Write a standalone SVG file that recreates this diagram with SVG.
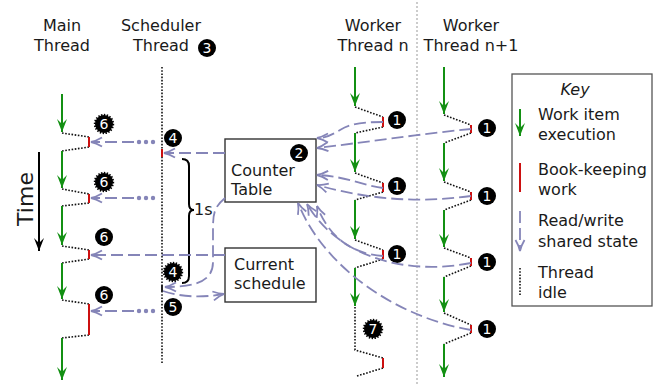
<svg xmlns="http://www.w3.org/2000/svg" width="659" height="388" viewBox="0 0 659 388">
<style>
text{font-family:"DejaVu Sans","Liberation Sans",sans-serif;font-size:16px;fill:#1a1a1a}
.ttl{text-anchor:middle}
.grn{stroke:#139013;stroke-width:2;fill:none}
.red{stroke:#cc1010;stroke-width:2;fill:none}
.idle{stroke:#111;stroke-width:1.6;stroke-dasharray:1.6 1.6;fill:none}
.rw{stroke:#8585b8;stroke-width:1.8;stroke-dasharray:12 5;fill:none}
.box{fill:#fff;stroke:#333;stroke-width:1.4}
.bd circle{fill:#000}
.bd text{fill:#fff;font-size:14px;text-anchor:middle}
.ser{fill:none;stroke:#000;stroke-width:2.4;stroke-dasharray:1.4 1.4}
.dot{fill:#8585b8}
</style>
<defs>
<marker id="ag" viewBox="-14 -7 16 14" markerWidth="16" markerHeight="14" refX="0" refY="0" orient="auto" markerUnits="userSpaceOnUse">
<path d="M0,0 L-13,-5 L-8,0 L-13,5 Z" fill="#139013"/>
</marker>
<marker id="ap" viewBox="-14 -7 16 14" markerWidth="16" markerHeight="14" refX="0" refY="0" orient="auto" markerUnits="userSpaceOnUse">
<path d="M-11,-4.5 Q-5,-1 0,0 Q-5,1 -11,4.5" fill="none" stroke="#8585b8" stroke-width="1.8"/>
</marker>
<marker id="ak" viewBox="-14 -7 16 14" markerWidth="16" markerHeight="14" refX="0" refY="0" orient="auto" markerUnits="userSpaceOnUse">
<path d="M0,0 L-13,-5 L-8,0 L-13,5 Z" fill="#000"/>
</marker>
</defs>

<!-- separator -->
<line x1="417" y1="2" x2="417" y2="384" stroke="#999" stroke-width="1" stroke-dasharray="2 2"/>

<!-- titles -->
<g id="titles">
<text class="ttl" x="62" y="31">Main</text>
<text class="ttl" x="62" y="51">Thread</text>
<text class="ttl" x="161" y="31">Scheduler</text>
<text class="ttl" x="161" y="51">Thread</text>
<text class="ttl" x="373" y="31">Worker</text>
<text class="ttl" x="373" y="51">Thread n</text>
<text class="ttl" x="471" y="31">Worker</text>
<text class="ttl" x="471" y="51">Thread n+1</text>
</g>
<g class="bd"><circle cx="207" cy="48" r="9"/><text x="207" y="53">3</text></g>

<!-- time arrow -->
<g id="time">
<line x1="39" y1="152" x2="39" y2="251" stroke="#000" stroke-width="2" marker-end="url(#ak)"/>
<text x="33" y="199" font-size="22" text-anchor="middle" transform="rotate(-90 33 199)" style="font-size:22px">Time</text>
</g>

<!-- main thread -->
<g id="main-thread">
<path class="grn" d="M62,94 V132" marker-end="url(#ag)"/>
<path class="idle" d="M62,133 L89,137 M89,147 L62,151"/>
<path class="red" d="M89,137 V147"/>
<path class="grn" d="M62,151 V188" marker-end="url(#ag)"/>
<path class="idle" d="M62,189 L89,194 M89,203 L62,206"/>
<path class="red" d="M89,194 V203"/>
<path class="grn" d="M62,206 V245" marker-end="url(#ag)"/>
<path class="idle" d="M62,246 L89,250 M89,259 L62,263"/>
<path class="red" d="M89,250 V259"/>
<path class="grn" d="M62,263 V299" marker-end="url(#ag)"/>
<path class="idle" d="M62,300 L89,304 M89,335 L62,338"/>
<path class="red" d="M89,304 V335"/>
<path class="grn" d="M62,338 V380" marker-end="url(#ag)"/>
<g class="bd"><circle cx="104" cy="124" r="8"/><circle class="ser" cx="104" cy="124" r="9"/><text x="104" y="129">6</text></g>
<g class="bd"><circle cx="104" cy="182" r="8"/><circle class="ser" cx="104" cy="182" r="9"/><text x="104" y="187">6</text></g>
<g class="bd"><circle cx="104" cy="237" r="9"/><text x="104" y="242">6</text></g>
<g class="bd"><circle cx="104" cy="295" r="9"/><text x="104" y="300">6</text></g>
</g>

<!-- scheduler thread -->
<g id="scheduler-thread">
<path class="idle" d="M162,67 V363"/>
<path class="red" d="M162,149 V157"/>
<path d="M162,285 V292" stroke="#222" stroke-width="2"/>
<path d="M182,159 Q189,159 189,166 L189,204 Q189,210 194,210 Q189,210 189,216 L189,276 Q189,283 182,283" fill="none" stroke="#000" stroke-width="2"/>
<text x="194" y="215">1s</text>
<g class="bd"><circle cx="173" cy="138" r="9"/><text x="173" y="143">4</text></g>
<g class="bd"><circle cx="173" cy="272" r="8"/><circle class="ser" cx="173" cy="272" r="9"/><text x="173" y="277">4</text></g>
<g class="bd"><circle cx="173" cy="307" r="9"/><text x="173" y="312">5</text></g>
</g>

<!-- counter table -->
<g id="counter-table">
<rect class="box" x="225" y="139" width="91" height="63"/>
<text x="231" y="176">Counter</text>
<text x="231" y="195">Table</text>
<g class="bd"><circle cx="299" cy="153" r="9"/><text x="299" y="158">2</text></g>
</g>

<!-- current schedule -->
<g id="current-schedule">
<rect class="box" x="225" y="248" width="91" height="54"/>
<text x="234" y="270">Current</text>
<text x="234" y="289">schedule</text>
</g>

<!-- worker n -->
<g id="worker-n">
<path class="grn" d="M355,67 V106" marker-end="url(#ag)"/>
<path class="idle" d="M355,107 L383,117 M383,127 L355,133"/>
<path class="red" d="M383,117 V127"/>
<path class="grn" d="M355,133 V172" marker-end="url(#ag)"/>
<path class="idle" d="M355,173 L383,183 M383,192 L355,200"/>
<path class="red" d="M383,183 V192"/>
<path class="grn" d="M355,200 V239" marker-end="url(#ag)"/>
<path class="idle" d="M355,240 L383,250 M383,259 L355,268"/>
<path class="red" d="M383,250 V259"/>
<path class="grn" d="M355,268 V306" marker-end="url(#ag)"/>
<path class="idle" d="M355,307 V350 L383,358 M383,368 L357,376"/>
<path class="red" d="M383,358 V368"/>
<g class="bd"><circle cx="397" cy="120" r="9"/><text x="397" y="125">1</text></g>
<g class="bd"><circle cx="397" cy="186" r="9"/><text x="397" y="191">1</text></g>
<g class="bd"><circle cx="397" cy="254" r="9"/><text x="397" y="259">1</text></g>
<g class="bd"><circle cx="373" cy="329" r="8"/><circle class="ser" cx="373" cy="329" r="9"/><text x="373" y="334">7</text></g>
</g>

<!-- worker n+1 -->
<g id="worker-n1">
<path class="grn" d="M444,67 V114" marker-end="url(#ag)"/>
<path class="idle" d="M444,115 L471,125 M471,133 L444,143"/>
<path class="red" d="M471,125 V133"/>
<path class="grn" d="M444,143 V181" marker-end="url(#ag)"/>
<path class="idle" d="M444,182 L471,192 M471,200 L444,210"/>
<path class="red" d="M471,192 V200"/>
<path class="grn" d="M444,210 V247" marker-end="url(#ag)"/>
<path class="idle" d="M444,248 L471,258 M471,266 L444,277"/>
<path class="red" d="M471,258 V266"/>
<path class="grn" d="M444,277 V312" marker-end="url(#ag)"/>
<path class="idle" d="M444,313 L471,325 M471,333 L444,344"/>
<path class="red" d="M471,325 V333"/>
<path class="grn" d="M444,344 V377" marker-end="url(#ag)"/>
<g class="bd"><circle cx="487" cy="128" r="9"/><text x="487" y="133">1</text></g>
<g class="bd"><circle cx="487" cy="196" r="9"/><text x="487" y="201">1</text></g>
<g class="bd"><circle cx="487" cy="262" r="9"/><text x="487" y="267">1</text></g>
<g class="bd"><circle cx="487" cy="329" r="9"/><text x="487" y="334">1</text></g>
</g>

<!-- connectors -->
<g id="connectors">
<path class="rw" d="M134,142 H91" marker-end="url(#ap)"/>
<circle class="dot" cx="139" cy="142" r="2.2"/><circle class="dot" cx="146" cy="142" r="2.2"/><circle class="dot" cx="153" cy="142" r="2.2"/>
<path class="rw" d="M134,198 H91" marker-end="url(#ap)"/>
<circle class="dot" cx="139" cy="198" r="2.2"/><circle class="dot" cx="146" cy="198" r="2.2"/><circle class="dot" cx="153" cy="198" r="2.2"/>
<path class="rw" d="M225,255 H91" marker-end="url(#ap)"/>
<path class="rw" d="M134,311 H91" marker-end="url(#ap)"/>
<circle class="dot" cx="139" cy="311" r="2.2"/><circle class="dot" cx="146" cy="311" r="2.2"/><circle class="dot" cx="153" cy="311" r="2.2"/>
<path class="rw" d="M225,153 H164" marker-end="url(#ap)"/>
<path class="rw" d="M225,198 C213,208 213,215 213,232 L213,262 C213,280 198,287 165,287" marker-end="url(#ap)"/>
<path class="rw" d="M163,291 Q190,300 224,294" marker-end="url(#ap)"/>
<path class="rw" d="M383,122 C360,122 350,124 340,130 S325,138 317,138" marker-end="url(#ap)"/>
<path class="rw" d="M471,129 C420,134 360,143 317,148" marker-end="url(#ap)"/>
<path class="rw" d="M383,188 C365,186 345,176 317,175" marker-end="url(#ap)"/>
<path class="rw" d="M471,196 C420,203 370,200 317,185" marker-end="url(#ap)"/>
<path class="rw" d="M383,256 C350,254 328,235 317,206" marker-end="url(#ap)"/>
<path class="rw" d="M471,263 C410,275 340,260 307,204" marker-end="url(#ap)"/>
<path class="rw" d="M471,330 C400,318 325,270 298,203" marker-end="url(#ap)"/>
</g>

<!-- key -->
<g id="key">
<rect x="512" y="74" width="140" height="232" fill="#fff" stroke="#555" stroke-width="1.3"/>
<text x="575" y="95" text-anchor="middle" font-style="italic">Key</text>
<path class="grn" d="M520,109 V136" marker-end="url(#ag)"/>
<text x="538" y="120">Work item</text>
<text x="538" y="140">execution</text>
<path class="red" d="M520,163 V192"/>
<text x="538" y="175">Book-keeping</text>
<text x="538" y="195">work</text>
<path class="rw" d="M520,211 V251" marker-end="url(#ap)"/>
<text x="538" y="226">Read/write</text>
<text x="538" y="247">shared state</text>
<path class="idle" d="M520,268 V295"/>
<text x="538" y="278">Thread</text>
<text x="538" y="298">idle</text>
</g>
</svg>
